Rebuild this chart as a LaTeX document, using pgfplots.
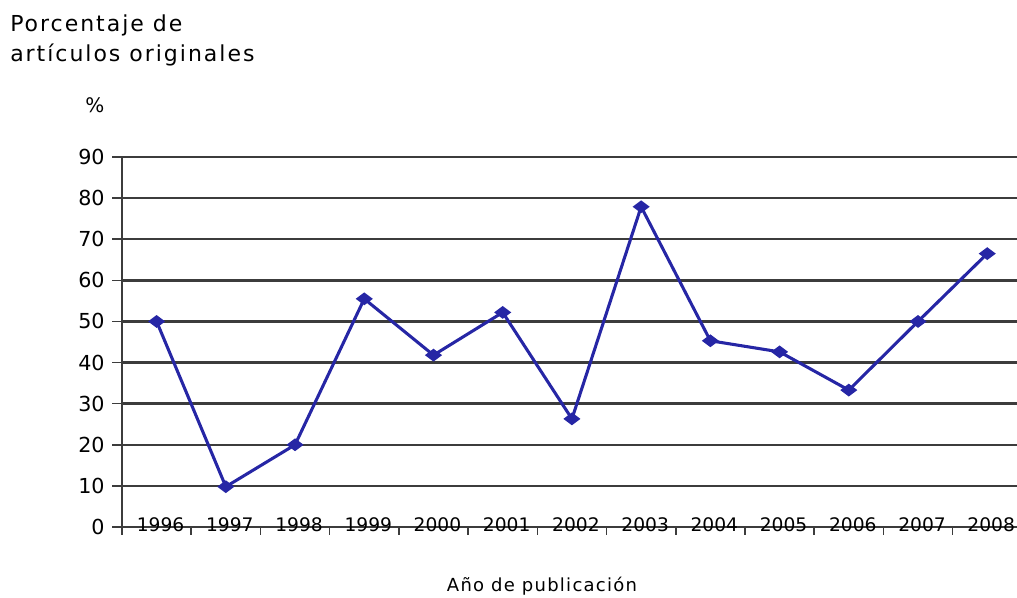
\documentclass[border=0pt]{standalone}
\usepackage{pgfplots}
\pgfplotsset{compat=1.18}
\usepackage{fontspec}
\setmainfont{DejaVu Sans}
\newfontfamily\titlefont[LetterSpace=9]{DejaVu Sans}
\newfontfamily\xlabfont[LetterSpace=7]{DejaVu Sans}
\definecolor{lineblue}{RGB}{38,38,165}
\definecolor{gridgray}{RGB}{60,60,60}
\begin{document}
\begin{tikzpicture}[x=0.75pt,y=0.75pt]
\path[use as bounding box] (0,0) rectangle (1017,598);
\begin{axis}[
  at={(91.5pt,53.25pt)}, anchor=south west,
  scale only axis, width=671.25pt, height=277.5pt,
  xmin=-0.5, xmax=12.43, ymin=0, ymax=90,
  axis x line=bottom, axis y line=left,
  axis line style={-, gridgray, line width=1.6pt},
  ytick={0,10,...,90}, ymajorgrids,
  grid style={gridgray, line width=1.8pt},
  tick align=outside, major tick length=7.5pt, minor tick length=6pt,
  tick style={gridgray, line width=1.2pt},
  xtick={0,...,12},
  xticklabels={1996,1997,1998,1999,2000,2001,2002,2003,2004,2005,2006,2007,2008},
  major x tick style={draw=none},
  minor xtick={-0.5,0.5,...,11.5},
  xticklabel style={font=\fontsize{14}{14}\selectfont, anchor=center, yshift=9.5pt, xshift=3pt},
  yticklabel style={font=\fontsize{15.5}{16}\selectfont, anchor=east, xshift=-2pt},
  /pgf/number format/assume math mode=true,
  clip=false,
]
\addplot[color=lineblue, line width=2.3pt, mark=diamond*, mark size=4.5pt, mark options={rotate=90, fill=lineblue}]
  coordinates {(0,50) (1,9.8) (2,20) (3,55.5) (4,41.8) (5,52.2) (6,26.3) (7,77.9) (8,45.3) (9,42.6) (10,33.3) (11,50) (12,66.5)};
\end{axis}
\node[anchor=base west, inner sep=0, font=\titlefont\fontsize{16.5}{16.5}\selectfont] at (10,566) {Porcentaje de};
\node[anchor=base west, inner sep=0, font=\titlefont\fontsize{16.5}{16.5}\selectfont] at (10,536) {artículos originales};
\node[inner sep=0, font=\fontsize{15}{15}\selectfont] at (95,493) {\%};
\node[inner sep=0, font=\xlabfont\fontsize{13.5}{13.5}\selectfont] at (542,12) {Año de publicación};
\end{tikzpicture}
\end{document}
